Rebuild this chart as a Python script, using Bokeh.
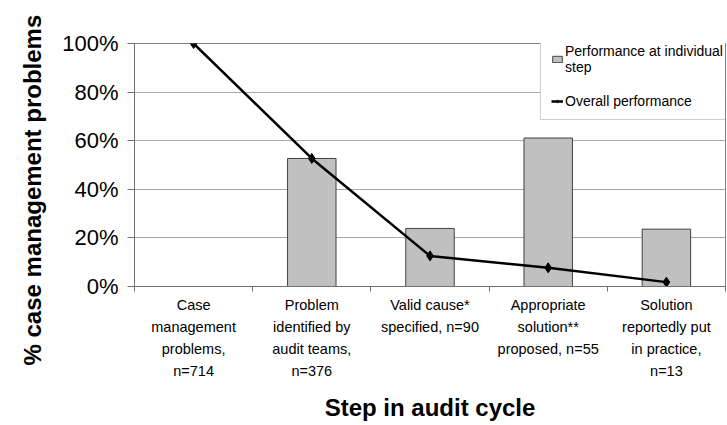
from bokeh.plotting import figure
from bokeh.models import (Range1d, FixedTicker, PrintfTickFormatter, Legend, LegendItem,
                          Title)
from bokeh.embed import file_html
from bokeh.resources import INLINE

# ---- data ----
categories = [
    "Case\nmanagement\nproblems,\nn=714",
    "Problem\nidentified by\naudit teams,\nn=376",
    "Valid cause*\nspecified, n=90",
    "Appropriate\nsolution**\nproposed, n=55",
    "Solution\nreportedly put\nin practice,\nn=13",
]
step_performance = [None, 52.7, 23.9, 61.1, 23.6]   # % at individual step
overall_performance = [100.0, 52.7, 12.6, 7.7, 1.8]  # % overall
y_ticks = [0, 20, 40, 60, 80, 100]

FONT = "Liberation Sans"

centers = [i + 0.5 for i in range(len(categories))]
bounds = [float(i) for i in range(len(categories) + 1)]

p = figure(width=727, height=425, output_backend="svg", toolbar_location=None,
           x_range=Range1d(0, len(categories)), y_range=Range1d(0, 100),
           min_border_left=134, min_border_right=2, min_border_top=43, min_border_bottom=139)
p.background_fill_color = "white"
p.border_fill_color = "white"
p.outline_line_color = "#808080"
p.outline_line_width = 1

# bars
bx = [c for c, v in zip(centers, step_performance) if v is not None]
by = [v for v in step_performance if v is not None]
bars = p.vbar(x=bx, top=by, bottom=0, width=0.41, fill_color="#c0c0c0",
              line_color="#404040", line_width=1)

# line
ln = p.line(centers, overall_performance, line_color="black", line_width=2.5)
mk = p.scatter(centers, overall_performance, marker="diamond", size=10,
               fill_color="black", line_color="black")

# x axis
xa = p.xaxis[0]
xa.ticker = FixedTicker(ticks=centers, minor_ticks=bounds)
xa.major_label_overrides = {c: lab for c, lab in zip(centers, categories)}
xa.major_tick_line_color = None
xa.minor_tick_in = 0
xa.minor_tick_out = 5
xa.minor_tick_line_color = "#707070"
xa.axis_line_color = "#707070"
xa.major_label_text_font = FONT
xa.major_label_text_font_size = "14.5px"
xa.major_label_text_color = "black"
xa.major_label_text_line_height = 1.38
xa.major_label_standoff = 4
xa.axis_label = "Step in audit cycle"
xa.axis_label_text_font = FONT
xa.axis_label_text_font_size = "24px"
xa.axis_label_text_font_style = "bold"
xa.axis_label_text_color = "black"
xa.axis_label_standoff = 12

# y axis
ya = p.yaxis[0]
ya.ticker = FixedTicker(ticks=y_ticks)
ya.formatter = PrintfTickFormatter(format="%d%%")
ya.minor_tick_line_color = None
ya.major_tick_in = 0
ya.major_tick_out = 7
ya.major_tick_line_color = "#707070"
ya.axis_line_color = "#707070"
ya.major_label_text_font = FONT
ya.major_label_text_font_size = "22px"
ya.major_label_text_color = "black"
ya.major_label_standoff = 9

p.xgrid.visible = False
p.ygrid.ticker = FixedTicker(ticks=y_ticks)
p.ygrid.grid_line_color = "#a8a8a8"
p.ygrid.grid_line_width = 1

ytitle = Title(text="% case management  problems", align="left", offset=-79,
               vertical_align="middle",
               text_font=FONT, text_font_size="24px", text_font_style="bold",
               text_color="black", standoff=25)
p.add_layout(ytitle, "left")

legend = Legend(items=[
    LegendItem(label="Performance at individual\nstep", renderers=[bars]),
    LegendItem(label="Overall performance", renderers=[ln, mk]),
], location=(406, 166))
legend.label_text_font = FONT
legend.label_text_font_size = "14px"
legend.label_text_color = "black"
legend.border_line_color = "#a0a0a0"
legend.background_fill_color = "white"
legend.background_fill_alpha = 1
legend.glyph_width = 12
legend.glyph_height = 8
legend.label_standoff = 2
legend.padding = 10
legend.spacing = 18
legend.margin = 0
p.add_layout(legend, "center")

open("out.html", "w").write(file_html(p, INLINE))
